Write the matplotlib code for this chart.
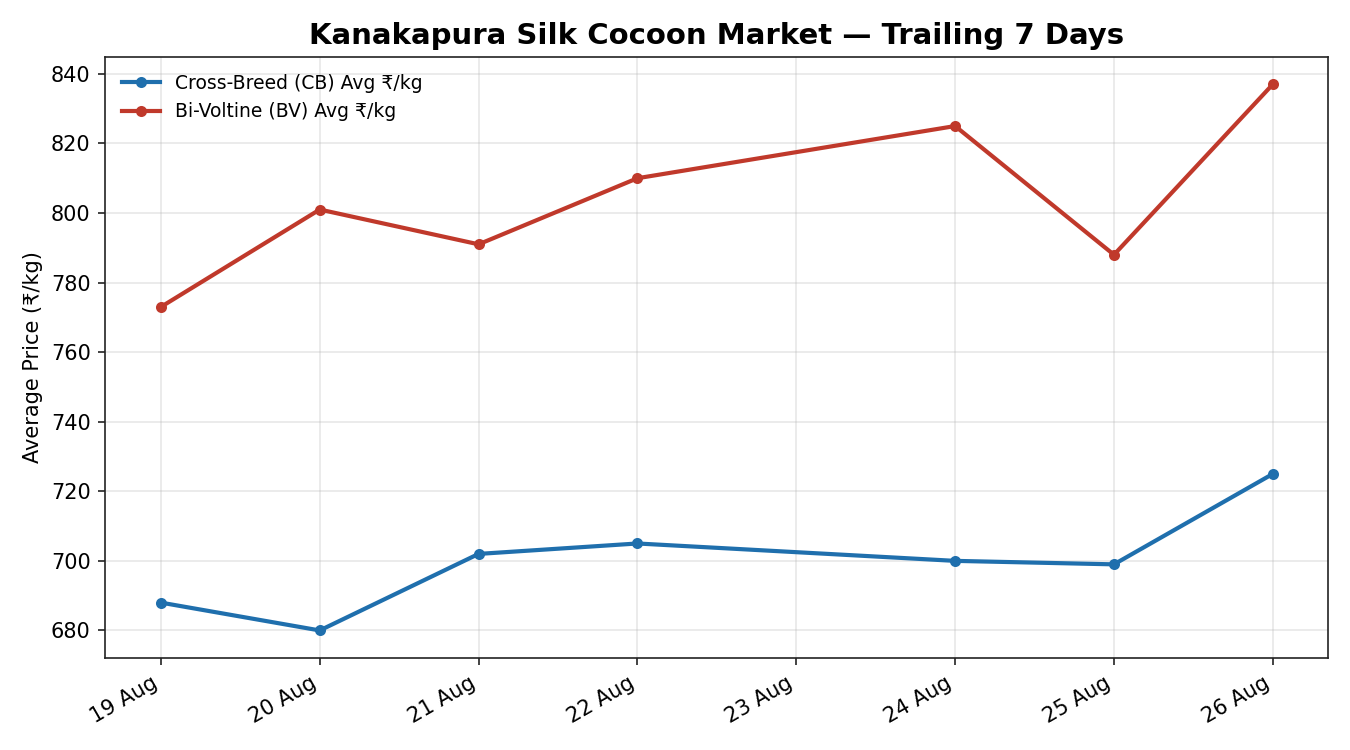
import pandas as pd
import matplotlib
matplotlib.use("Agg")
import matplotlib.pyplot as plt
import matplotlib.dates as mdates

plt.rcParams['font.family'] = ['DejaVu Sans']

# daily averages (no auction on 23 Aug)
dates = ["2024-08-19", "2024-08-20", "2024-08-21", "2024-08-22",
         "2024-08-24", "2024-08-25", "2024-08-26"]
cb_avg = [688, 680, 702, 705, 700, 699, 725]
bv_avg = [773, 801, 791, 810, 825, 788, 837]

days = pd.to_datetime(dates)

fig, ax = plt.subplots(figsize=(9, 5), dpi=150)
fig.subplots_adjust(left=0.078, right=0.984, top=0.924, bottom=0.123)

ax.plot(days, cb_avg, color="#1f6fad", lw=2, marker="o", ms=4.3,
        label="Cross-Breed (CB) Avg ₹/kg")
ax.plot(days, bv_avg, color="#c0392b", lw=2, marker="o", ms=4.3,
        label="Bi-Voltine (BV) Avg ₹/kg")

ax.set_title("Kanakapura Silk Cocoon Market — Trailing 7 Days",
             fontsize=14, fontweight="bold")
ax.set_ylabel("Average Price (₹/kg)", fontsize=10)
ax.set_yticks(range(680, 841, 20))

ax.xaxis.set_major_locator(mdates.DayLocator())
ax.xaxis.set_major_formatter(mdates.DateFormatter("%d %b"))
plt.setp(ax.get_xticklabels(), rotation=30, ha="right")
ax.tick_params(labelsize=10, color="#222222")
for s in ax.spines.values():
    s.set_color("#222222")

ax.grid(True, alpha=0.3)
ax.legend(loc="upper left", frameon=False, fontsize=9)

fig.savefig("out.png")
